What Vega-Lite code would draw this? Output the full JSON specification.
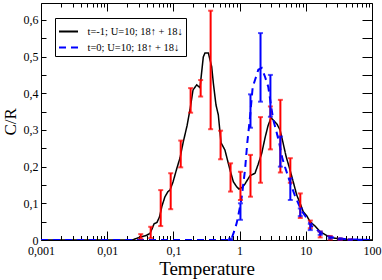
{
  "$schema": "https://vega.github.io/schema/vega-lite/v6.json",
  "width": 331,
  "height": 237,
  "autosize": {"type": "none"},
  "padding": {"left": 41, "top": 3, "right": 10, "bottom": 40},
  "background": "white",
  "config": {
    "view": {"stroke": null},
    "axis": {"grid": false, "domainColor": "black", "tickColor": "black", "labelColor": "black", "titleColor": "black", "labelFont": "Liberation Serif", "titleFont": "Liberation Serif", "labelFontSize": 12, "titleFontWeight": "normal", "titleFontSize": 19, "domainWidth": 1, "tickWidth": 1, "labelOverlap": false, "labelFlush": false},
    "legend": {"strokeColor": "black", "fillColor": "white", "padding": 3, "labelFont": "Liberation Serif", "labelFontSize": 10.5, "labelColor": "black", "symbolType": "stroke", "symbolSize": 361, "symbolStrokeWidth": 2, "labelOffset": 8.5, "rowPadding": -5}
  },
  "datasets": {
    "curves": [
      {"T": 0.001, "C": 0, "s": "t=-1; U=10; 18↑ + 18↓"},
      {"T": 0.024, "C": 0, "s": "t=-1; U=10; 18↑ + 18↓"},
      {"T": 0.0313, "C": 0.008, "s": "t=-1; U=10; 18↑ + 18↓"},
      {"T": 0.0386, "C": 0.012, "s": "t=-1; U=10; 18↑ + 18↓"},
      {"T": 0.0443, "C": 0.018, "s": "t=-1; U=10; 18↑ + 18↓"},
      {"T": 0.0475, "C": 0.03, "s": "t=-1; U=10; 18↑ + 18↓"},
      {"T": 0.051, "C": 0.044, "s": "t=-1; U=10; 18↑ + 18↓"},
      {"T": 0.0565, "C": 0.048, "s": "t=-1; U=10; 18↑ + 18↓"},
      {"T": 0.0617, "C": 0.063, "s": "t=-1; U=10; 18↑ + 18↓"},
      {"T": 0.0673, "C": 0.093, "s": "t=-1; U=10; 18↑ + 18↓"},
      {"T": 0.0746, "C": 0.118, "s": "t=-1; U=10; 18↑ + 18↓"},
      {"T": 0.0828, "C": 0.132, "s": "t=-1; U=10; 18↑ + 18↓"},
      {"T": 0.0888, "C": 0.136, "s": "t=-1; U=10; 18↑ + 18↓"},
      {"T": 0.0986, "C": 0.158, "s": "t=-1; U=10; 18↑ + 18↓"},
      {"T": 0.113, "C": 0.196, "s": "t=-1; U=10; 18↑ + 18↓"},
      {"T": 0.126, "C": 0.224, "s": "t=-1; U=10; 18↑ + 18↓"},
      {"T": 0.14, "C": 0.265, "s": "t=-1; U=10; 18↑ + 18↓"},
      {"T": 0.1605, "C": 0.311, "s": "t=-1; U=10; 18↑ + 18↓"},
      {"T": 0.178, "C": 0.355, "s": "t=-1; U=10; 18↑ + 18↓"},
      {"T": 0.198, "C": 0.409, "s": "t=-1; U=10; 18↑ + 18↓"},
      {"T": 0.225, "C": 0.423, "s": "t=-1; U=10; 18↑ + 18↓"},
      {"T": 0.252, "C": 0.415, "s": "t=-1; U=10; 18↑ + 18↓"},
      {"T": 0.283, "C": 0.499, "s": "t=-1; U=10; 18↑ + 18↓"},
      {"T": 0.3, "C": 0.51, "s": "t=-1; U=10; 18↑ + 18↓"},
      {"T": 0.337, "C": 0.51, "s": "t=-1; U=10; 18↑ + 18↓"},
      {"T": 0.379, "C": 0.472, "s": "t=-1; U=10; 18↑ + 18↓"},
      {"T": 0.401, "C": 0.428, "s": "t=-1; U=10; 18↑ + 18↓"},
      {"T": 0.44, "C": 0.368, "s": "t=-1; U=10; 18↑ + 18↓"},
      {"T": 0.477, "C": 0.341, "s": "t=-1; U=10; 18↑ + 18↓"},
      {"T": 0.524, "C": 0.265, "s": "t=-1; U=10; 18↑ + 18↓"},
      {"T": 0.601, "C": 0.245, "s": "t=-1; U=10; 18↑ + 18↓"},
      {"T": 0.716, "C": 0.191, "s": "t=-1; U=10; 18↑ + 18↓"},
      {"T": 0.804, "C": 0.159, "s": "t=-1; U=10; 18↑ + 18↓"},
      {"T": 0.904, "C": 0.145, "s": "t=-1; U=10; 18↑ + 18↓"},
      {"T": 0.979, "C": 0.139, "s": "t=-1; U=10; 18↑ + 18↓"},
      {"T": 1.087, "C": 0.143, "s": "t=-1; U=10; 18↑ + 18↓"},
      {"T": 1.207, "C": 0.153, "s": "t=-1; U=10; 18↑ + 18↓"},
      {"T": 1.436, "C": 0.175, "s": "t=-1; U=10; 18↑ + 18↓"},
      {"T": 1.709, "C": 0.182, "s": "t=-1; U=10; 18↑ + 18↓"},
      {"T": 1.897, "C": 0.205, "s": "t=-1; U=10; 18↑ + 18↓"},
      {"T": 2.157, "C": 0.236, "s": "t=-1; U=10; 18↑ + 18↓"},
      {"T": 2.419, "C": 0.278, "s": "t=-1; U=10; 18↑ + 18↓"},
      {"T": 2.685, "C": 0.311, "s": "t=-1; U=10; 18↑ + 18↓"},
      {"T": 2.981, "C": 0.333, "s": "t=-1; U=10; 18↑ + 18↓"},
      {"T": 3.31, "C": 0.325, "s": "t=-1; U=10; 18↑ + 18↓"},
      {"T": 3.67, "C": 0.316, "s": "t=-1; U=10; 18↑ + 18↓"},
      {"T": 4.08, "C": 0.3, "s": "t=-1; U=10; 18↑ + 18↓"},
      {"T": 4.53, "C": 0.265, "s": "t=-1; U=10; 18↑ + 18↓"},
      {"T": 5.02, "C": 0.229, "s": "t=-1; U=10; 18↑ + 18↓"},
      {"T": 5.77, "C": 0.191, "s": "t=-1; U=10; 18↑ + 18↓"},
      {"T": 6.41, "C": 0.161, "s": "t=-1; U=10; 18↑ + 18↓"},
      {"T": 7.28, "C": 0.123, "s": "t=-1; U=10; 18↑ + 18↓"},
      {"T": 8.17, "C": 0.101, "s": "t=-1; U=10; 18↑ + 18↓"},
      {"T": 9.16, "C": 0.077, "s": "t=-1; U=10; 18↑ + 18↓"},
      {"T": 10.4, "C": 0.065, "s": "t=-1; U=10; 18↑ + 18↓"},
      {"T": 11.6, "C": 0.05, "s": "t=-1; U=10; 18↑ + 18↓"},
      {"T": 13.8, "C": 0.038, "s": "t=-1; U=10; 18↑ + 18↓"},
      {"T": 16.4, "C": 0.023, "s": "t=-1; U=10; 18↑ + 18↓"},
      {"T": 19.5, "C": 0.015, "s": "t=-1; U=10; 18↑ + 18↓"},
      {"T": 23.2, "C": 0.0074, "s": "t=-1; U=10; 18↑ + 18↓"},
      {"T": 29.6, "C": 0.004, "s": "t=-1; U=10; 18↑ + 18↓"},
      {"T": 41.9, "C": 0.001, "s": "t=-1; U=10; 18↑ + 18↓"},
      {"T": 100, "C": 0, "s": "t=-1; U=10; 18↑ + 18↓"},
      {"T": 0.001, "C": 0, "s": "t=0; U=10; 18↑ + 18↓"},
      {"T": 0.692, "C": 0, "s": "t=0; U=10; 18↑ + 18↓"},
      {"T": 0.76, "C": 0.005, "s": "t=0; U=10; 18↑ + 18↓"},
      {"T": 0.822, "C": 0.022, "s": "t=0; U=10; 18↑ + 18↓"},
      {"T": 0.904, "C": 0.046, "s": "t=0; U=10; 18↑ + 18↓"},
      {"T": 1.014, "C": 0.09, "s": "t=0; U=10; 18↑ + 18↓"},
      {"T": 1.076, "C": 0.117, "s": "t=0; U=10; 18↑ + 18↓"},
      {"T": 1.207, "C": 0.191, "s": "t=0; U=10; 18↑ + 18↓"},
      {"T": 1.307, "C": 0.265, "s": "t=0; U=10; 18↑ + 18↓"},
      {"T": 1.436, "C": 0.335, "s": "t=0; U=10; 18↑ + 18↓"},
      {"T": 1.577, "C": 0.417, "s": "t=0; U=10; 18↑ + 18↓"},
      {"T": 1.709, "C": 0.436, "s": "t=0; U=10; 18↑ + 18↓"},
      {"T": 1.917, "C": 0.464, "s": "t=0; U=10; 18↑ + 18↓"},
      {"T": 2.157, "C": 0.469, "s": "t=0; U=10; 18↑ + 18↓"},
      {"T": 2.419, "C": 0.445, "s": "t=0; U=10; 18↑ + 18↓"},
      {"T": 2.714, "C": 0.417, "s": "t=0; U=10; 18↑ + 18↓"},
      {"T": 3.05, "C": 0.355, "s": "t=0; U=10; 18↑ + 18↓"},
      {"T": 3.23, "C": 0.327, "s": "t=0; U=10; 18↑ + 18↓"},
      {"T": 3.55, "C": 0.3, "s": "t=0; U=10; 18↑ + 18↓"},
      {"T": 3.94, "C": 0.267, "s": "t=0; U=10; 18↑ + 18↓"},
      {"T": 4.37, "C": 0.226, "s": "t=0; U=10; 18↑ + 18↓"},
      {"T": 4.85, "C": 0.199, "s": "t=0; U=10; 18↑ + 18↓"},
      {"T": 5.77, "C": 0.158, "s": "t=0; U=10; 18↑ + 18↓"},
      {"T": 6.87, "C": 0.12, "s": "t=0; U=10; 18↑ + 18↓"},
      {"T": 8.67, "C": 0.079, "s": "t=0; U=10; 18↑ + 18↓"},
      {"T": 10.3, "C": 0.06, "s": "t=0; U=10; 18↑ + 18↓"},
      {"T": 12.3, "C": 0.038, "s": "t=0; U=10; 18↑ + 18↓"},
      {"T": 17.4, "C": 0.018, "s": "t=0; U=10; 18↑ + 18↓"},
      {"T": 24.6, "C": 0.0074, "s": "t=0; U=10; 18↑ + 18↓"},
      {"T": 41.5, "C": 0.002, "s": "t=0; U=10; 18↑ + 18↓"},
      {"T": 100, "C": 0, "s": "t=0; U=10; 18↑ + 18↓"}
    ],
    "bars": [
      {"T": 0.0321, "lo": 0.004, "hi": 0.016, "run": "t=-1"},
      {"T": 0.0454, "lo": 0.005, "hi": 0.036, "run": "t=-1"},
      {"T": 0.0643, "lo": 0.038, "hi": 0.136, "run": "t=-1"},
      {"T": 0.091, "lo": 0.084, "hi": 0.182, "run": "t=-1"},
      {"T": 0.129, "lo": 0.198, "hi": 0.271, "run": "t=-1"},
      {"T": 0.182, "lo": 0.347, "hi": 0.414, "run": "t=-1"},
      {"T": 0.258, "lo": 0.391, "hi": 0.436, "run": "t=-1"},
      {"T": 0.365, "lo": 0.302, "hi": 0.625, "run": "t=-1"},
      {"T": 0.516, "lo": 0.22, "hi": 0.298, "run": "t=-1"},
      {"T": 0.73, "lo": 0.132, "hi": 0.209, "run": "t=-1"},
      {"T": 1.03, "lo": 0.109, "hi": 0.186, "run": "t=-1"},
      {"T": 1.46, "lo": 0.118, "hi": 0.232, "run": "t=-1"},
      {"T": 2.07, "lo": 0.156, "hi": 0.335, "run": "t=-1"},
      {"T": 2.92, "lo": 0.247, "hi": 0.364, "run": "t=-1"},
      {"T": 4.13, "lo": 0.184, "hi": 0.382, "run": "t=-1"},
      {"T": 5.84, "lo": 0.156, "hi": 0.223, "run": "t=-1"},
      {"T": 8.26, "lo": 0.06, "hi": 0.127, "run": "t=-1"},
      {"T": 11.7, "lo": 0.032, "hi": 0.053, "run": "t=-1"},
      {"T": 16.5, "lo": 0.007, "hi": 0.023, "run": "t=-1"},
      {"T": 23.4, "lo": 0.001, "hi": 0.011, "run": "t=-1"},
      {"T": 33, "lo": 0, "hi": 0.004, "run": "t=-1"},
      {"T": 46.7, "lo": 0, "hi": 0.002, "run": "t=-1"},
      {"T": 0.73, "lo": 0, "hi": 0.004, "run": "t=0"},
      {"T": 1.03, "lo": 0.055, "hi": 0.1, "run": "t=0"},
      {"T": 1.46, "lo": 0.306, "hi": 0.397, "run": "t=0"},
      {"T": 2.07, "lo": 0.377, "hi": 0.564, "run": "t=0"},
      {"T": 2.92, "lo": 0.336, "hi": 0.45, "run": "t=0"},
      {"T": 4.13, "lo": 0.2, "hi": 0.282, "run": "t=0"},
      {"T": 5.84, "lo": 0.109, "hi": 0.168, "run": "t=0"},
      {"T": 8.26, "lo": 0.065, "hi": 0.086, "run": "t=0"},
      {"T": 11.7, "lo": 0.027, "hi": 0.044, "run": "t=0"},
      {"T": 16.5, "lo": 0.014, "hi": 0.023, "run": "t=0"},
      {"T": 23.4, "lo": 0.004, "hi": 0.009, "run": "t=0"},
      {"T": 33, "lo": 0.001, "hi": 0.004, "run": "t=0"},
      {"T": 46.7, "lo": 0, "hi": 0.002, "run": "t=0"},
      {"T": 66, "lo": 0, "hi": 0.001, "run": "t=0"}
    ]
  },
  "resolve": {"axis": {"x": "independent", "y": "independent"}},
  "layer": [
    {
      "data": {"name": "curves"},
      "transform": [{"filter": "datum.s == 't=-1; U=10; 18↑ + 18↓'"}],
      "mark": {"type": "line", "strokeWidth": 1.5, "clip": true},
      "encoding": {
        "x": {"field": "T", "type": "quantitative", "scale": {"type": "log", "domain": [0.001, 100], "nice": false},
          "axis": {"orient": "bottom", "values": [0.001,0.002,0.003,0.004,0.005,0.006,0.007,0.008,0.009,0.01,0.02,0.03,0.04,0.05,0.06,0.07,0.08,0.09,0.1,0.2,0.3,0.4,0.5,0.6,0.7,0.8,0.9,1,2,3,4,5,6,7,8,9,10,20,30,40,50,60,70,80,90,100],
            "labelExpr": "abs(log(datum.value)/LN10 - round(log(datum.value)/LN10)) < 0.001 ? replace(format(datum.value, '~g'), '.', ',') : ''",
            "tickSize": {"condition": {"test": "abs(log(datum.value)/LN10 - round(log(datum.value)/LN10)) < 0.001", "value": -9}, "value": -4.5},
            "labelPadding": 14, "title": "Temperature", "titleX": 165.5, "titleY": 34, "titleBaseline": "alphabetic", "titleAlign": "center"}},
        "y": {"field": "C", "type": "quantitative", "scale": {"domain": [0, 0.646], "nice": false, "zero": true},
          "axis": {"orient": "left", "values": [0,0.05,0.1,0.15,0.2,0.25,0.3,0.35,0.4,0.45,0.5,0.55,0.6],
            "labelExpr": "round(datum.value*20) % 2 == 0 ? replace(format(datum.value, '~g'), '.', ',') : ''",
            "tickSize": -5, "labelPadding": 8, "title": "C/R", "titleFontSize": 17, "titleX": -31, "titleY": 118.3, "titleAngle": -90, "titleBaseline": "middle", "titleAlign": "center"}},
        "color": {"field": "s", "type": "nominal", "scale": {"domain": ["t=-1; U=10; 18↑ + 18↓", "t=0; U=10; 18↑ + 18↓"], "range": ["black", "#0000ff"]},
          "legend": {"title": null, "orient": "none", "legendX": 14, "legendY": 15}},
        "strokeDash": {"field": "s", "type": "nominal", "scale": {"domain": ["t=-1; U=10; 18↑ + 18↓", "t=0; U=10; 18↑ + 18↓"], "range": [[1, 0], [7, 5]]},
          "legend": {"title": null, "orient": "none", "legendX": 14, "legendY": 15}}
      }
    },
    {
      "data": {"name": "curves"},
      "transform": [{"filter": "datum.s == 't=0; U=10; 18↑ + 18↓'"}],
      "mark": {"type": "line", "strokeWidth": 2, "clip": true},
      "encoding": {
        "x": {"field": "T", "type": "quantitative",
          "axis": {"orient": "top", "values": [0.001,0.002,0.003,0.004,0.005,0.006,0.007,0.008,0.009,0.01,0.02,0.03,0.04,0.05,0.06,0.07,0.08,0.09,0.1,0.2,0.3,0.4,0.5,0.6,0.7,0.8,0.9,1,2,3,4,5,6,7,8,9,10,20,30,40,50,60,70,80,90,100],
            "labels": false, "title": null,
            "tickSize": {"condition": {"test": "abs(log(datum.value)/LN10 - round(log(datum.value)/LN10)) < 0.001", "value": -8}, "value": -4}}},
        "y": {"field": "C", "type": "quantitative",
          "axis": {"orient": "right", "values": [0,0.05,0.1,0.15,0.2,0.25,0.3,0.35,0.4,0.45,0.5,0.55,0.6], "labels": false, "title": null, "tickSize": -10}},
        "color": {"field": "s", "type": "nominal"},
        "strokeDash": {"field": "s", "type": "nominal"}
      }
    },
    {
      "data": {"name": "bars"},
      "transform": [{"filter": "datum.run == 't=-1'"}],
      "mark": {"type": "errorbar", "ticks": {"size": 5, "thickness": 2, "color": "#ff0000"}, "thickness": 2, "color": "#ff0000"},
      "encoding": {
        "x": {"field": "T", "type": "quantitative", "axis": null},
        "y": {"field": "lo", "type": "quantitative", "axis": null},
        "y2": {"field": "hi"}
      }
    },
    {
      "data": {"name": "bars"},
      "transform": [{"filter": "datum.run == 't=0'"}],
      "mark": {"type": "errorbar", "ticks": {"size": 5, "thickness": 2, "color": "#0000ff"}, "thickness": 2, "color": "#0000ff"},
      "encoding": {
        "x": {"field": "T", "type": "quantitative", "axis": null},
        "y": {"field": "lo", "type": "quantitative", "axis": null},
        "y2": {"field": "hi"}
      }
    }
  ]
}
